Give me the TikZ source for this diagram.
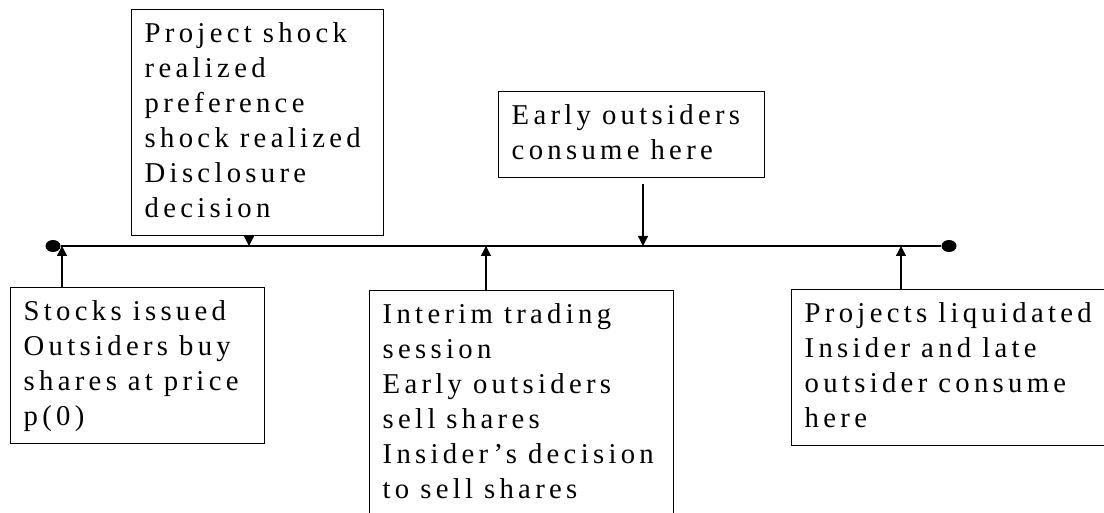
\documentclass[tikz,border=0pt]{standalone}
\usepackage{fontspec}
\newfontfamily\evfont[LetterSpace=15]{Liberation Serif}
\usepackage{tikz}
\usetikzlibrary{arrows.meta,shapes.geometric}

\begin{document}
\begin{tikzpicture}[
      x=0.5pt, y=-0.5pt,
      evt/.style   = {rectangle, draw, line width=0.7pt, anchor=north west, align=left,
                      inner xsep=6.5pt, inner ysep=4pt,
                      font=\evfont\fontsize{14.35pt}{17.5pt}\selectfont,
                      execute at begin node={\spaceskip=5.5pt\relax\strut},
                      execute at end node=\strut},
      dot/.style   = {ellipse, fill, minimum width=7.5pt, minimum height=6pt, inner sep=0pt},
      tline/.style = {draw, line width=0.8pt},
      ptr/.style   = {-{Triangle[length=5pt, width=5pt]}, draw, line width=0.7pt},
    ]
    \useasboundingbox (0,0) rectangle (1104,513);
    \clip (0,0) rectangle (1104,513);

    %% ------------------------------------------------ time line
    \node[dot] (t0) at (53,246) {};
    \node[dot] (t1) at (949,246) {};
    \draw[tline] (t0) -- (t1);
    \coordinate (m0) at (62,246);
    \coordinate (m1) at (249,246);
    \coordinate (m2) at (486,246);
    \coordinate (m3) at (643,246);
    \coordinate (m4) at (901,246);

    %% ------------------------------------------------ events above the line
    \node[evt, text width=113pt] (proj) at (131,9)
      {Project shock\\ realized\\ preference\\ shock~realized\\ Disclosure\\ decision};
    \node[evt, text width=120pt] (early) at (498,91)
      {Early outsiders\\ consume here};

    %% ------------------------------------------------ events below the line
    \node[evt, text width=114pt] (stocks) at (10,287)
      {Stocks issued\\ Outsiders buy\\ shares at price\\ p(0)};
    \node[evt, text width=139pt] (interim) at (369,290)
      {Interim trading\\ session\\ Early outsiders\\ sell shares\\ Insider’s~decision\\ to sell shares};
    \node[evt, text width=160pt] (liquid) at (791,289)
      {Projects liquidated\\ Insider and late\\ outsider consume\\ here};

    %% ------------------------------------------------ pointers
    \draw[ptr] (proj.south -| m1) -- (m1);
    \draw[ptr, shorten <=3pt] (early.south -| m3) -- (m3);
    \draw[ptr] (stocks.north -| m0) -- (m0);
    \draw[ptr] (interim.north -| m2) -- (m2);
    \draw[ptr] (liquid.north -| m4) -- (m4);
  \end{tikzpicture}
\end{document}
